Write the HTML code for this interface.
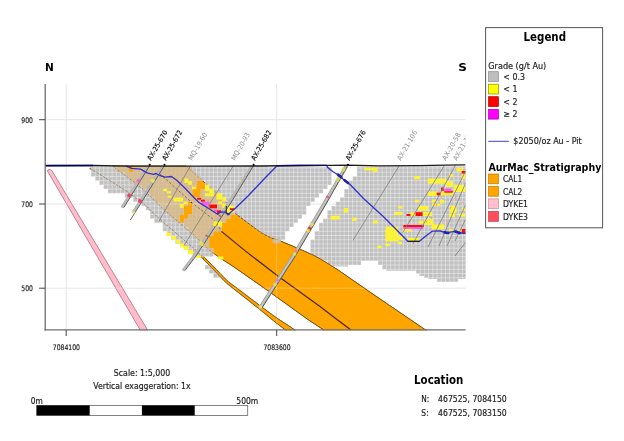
<!DOCTYPE html>
<html lang="en"><head><meta charset="utf-8"><title>AurMac cross-section</title>
<style>html,body{margin:0;padding:0;background:#fff;overflow:hidden}svg{display:block}</style></head>
<body>
<svg width="624" height="441" viewBox="0 0 624 441" font-family='"DejaVu Sans Condensed","Liberation Sans",sans-serif'>
<rect width="624" height="441" fill="#fff"/>
<g stroke="#e6e6e6" stroke-width="1" fill="none">
<line x1="45" y1="119.7" x2="465.6" y2="119.7"/>
<line x1="45" y1="204" x2="465.6" y2="204"/>
<line x1="45" y1="288.2" x2="465.6" y2="288.2"/>
<line x1="66.2" y1="84" x2="66.2" y2="330"/>
<line x1="276.7" y1="84" x2="276.7" y2="330"/>
</g>
<defs><clipPath id="plot"><rect x="45" y="84" width="420.6" height="246.3"/></clipPath></defs>
<g clip-path="url(#plot)">
<polygon points="47.3,170.8 48.0,169.8 50.6,169.4 51.6,170.2 147.9,330.5 140.5,330.5" fill="#ffbccb" stroke="#a8707e" stroke-width="0.8" stroke-linejoin="round"/>
<polygon points="186.0,166.0 200.0,178.5 212.0,189.0 224.0,199.5 234.6,212.9 244.0,220.2 250.0,224.6 262.8,233.9 271.2,238.0 280.8,241.2 290.0,245.1 302.3,250.3 315.0,256.0 325.0,261.8 338.0,270.0 375.6,296.0 425.6,330.0 430.0,333.0 320.0,333.0 324.0,330.0 308.7,320.0 267.0,290.0 235.0,267.6 218.3,256.7 210.6,251.3 197.8,238.5 185.0,227.6 165.0,210.5 156.8,202.5 148.3,194.5 143.5,189.7 132.9,181.1 114.6,167.6 112.5,166.0" fill="#ffa500" stroke="#7a4e12" stroke-width="0.9"/>
<polygon points="89.8,168.7 127.0,192.0 145.0,205.4 156.5,217.0 194.5,249.9 203.0,258.9 211.6,267.5 219.3,275.7 227.0,283.5 239.2,293.1 259.3,309.0 273.8,320.9 287.9,331.8 292.3,335.3 295.7,330.7 291.1,327.4 276.2,317.7 261.1,306.6 240.8,291.1 228.4,281.9 220.7,274.3 213.0,266.1 204.4,257.5 195.5,248.9 157.1,216.2 145.6,204.6 127.6,191.2 90.4,167.9" fill="#ffa500" stroke="#7a4e12" stroke-width="0.8"/>
<polyline points="160.0,174.0 166.4,179.7 192.0,202.8 215.1,220.7 221.5,231.4 244.6,250.4 277.5,275.7 320.0,306.6 335.0,318.0 351.0,330.0" fill="none" stroke="#4a2606" stroke-width="1.2"/>
<defs><clipPath id="gc"><polygon points="186.0,166.0 200.0,178.5 212.0,189.0 224.0,199.5 234.6,212.9 244.0,220.2 250.0,224.6 262.8,233.9 271.2,238.0 280.8,241.2 290.0,245.1 302.3,250.3 315.0,256.0 325.0,261.8 338.0,270.0 375.6,296.0 425.6,330.0 430.0,333.0 320.0,333.0 324.0,330.0 308.7,320.0 267.0,290.0 235.0,267.6 218.3,256.7 210.6,251.3 197.8,238.5 185.0,227.6 165.0,210.5 156.8,202.5 148.3,194.5 143.5,189.7 132.9,181.1 114.6,167.6 112.5,166.0"/><polygon points="89.8,168.7 127.0,192.0 145.0,205.4 156.5,217.0 194.5,249.9 203.0,258.9 211.6,267.5 219.3,275.7 227.0,283.5 239.2,293.1 259.3,309.0 273.8,320.9 287.9,331.8 292.3,335.3 295.7,330.7 291.1,327.4 276.2,317.7 261.1,306.6 240.8,291.1 228.4,281.9 220.7,274.3 213.0,266.1 204.4,257.5 195.5,248.9 157.1,216.2 145.6,204.6 127.6,191.2 90.4,167.9"/><polygon points="47.3,170.8 48.0,169.8 50.6,169.4 51.6,170.2 147.9,330.5 140.5,330.5"/></clipPath></defs>
<defs><clipPath id="bc"><path d="M91.02 168.00h37.98v4.22h-37.98zM133.22 168.00h198.34v4.22h-198.34zM356.88 168.00h109.72v4.22h-109.72zM91.02 172.22h240.54v4.22h-240.54zM356.88 172.22h109.72v4.22h-109.72zM95.24 176.44h236.32v4.22h-236.32zM352.66 176.44h113.94v4.22h-113.94zM99.46 180.66h97.06v4.22h-97.06zM204.96 180.66h126.60v4.22h-126.60zM348.44 180.66h118.16v4.22h-118.16zM103.68 184.88h92.84v4.22h-92.84zM204.96 184.88h122.38v4.22h-122.38zM348.44 184.88h118.16v4.22h-118.16zM107.90 189.10h84.40v4.22h-84.40zM200.74 189.10h122.38v4.22h-122.38zM344.22 189.10h122.38v4.22h-122.38zM124.78 193.32h67.52v4.22h-67.52zM200.74 193.32h118.16v4.22h-118.16zM344.22 193.32h122.38v4.22h-122.38zM133.22 197.54h181.46v4.22h-181.46zM340.00 197.54h126.60v4.22h-126.60zM141.66 201.76h46.42v4.22h-46.42zM192.30 201.76h118.16v4.22h-118.16zM335.78 201.76h130.82v4.22h-130.82zM145.88 205.98h37.98v4.22h-37.98zM192.30 205.98h113.94v4.22h-113.94zM331.56 205.98h135.04v4.22h-135.04zM150.10 210.20h33.76v4.22h-33.76zM192.30 210.20h113.94v4.22h-113.94zM327.34 210.20h139.26v4.22h-139.26zM150.10 214.42h29.54v4.22h-29.54zM188.08 214.42h42.20v4.22h-42.20zM238.72 214.42h63.30v4.22h-63.30zM327.34 214.42h139.26v4.22h-139.26zM154.32 218.64h25.32v4.22h-25.32zM183.86 218.64h42.20v4.22h-42.20zM242.94 218.64h54.86v4.22h-54.86zM323.12 218.64h143.48v4.22h-143.48zM162.76 222.86h59.08v4.22h-59.08zM247.16 222.86h46.42v4.22h-46.42zM318.90 222.86h147.70v4.22h-147.70zM162.76 227.08h59.08v4.22h-59.08zM255.60 227.08h33.76v4.22h-33.76zM318.90 227.08h147.70v4.22h-147.70zM166.98 231.30h46.42v4.22h-46.42zM259.82 231.30h25.32v4.22h-25.32zM314.68 231.30h151.92v4.22h-151.92zM171.20 235.52h37.98v4.22h-37.98zM268.26 235.52h16.88v4.22h-16.88zM314.68 235.52h151.92v4.22h-151.92zM175.42 239.74h33.76v4.22h-33.76zM310.46 239.74h156.14v4.22h-156.14zM183.86 243.96h25.32v4.22h-25.32zM310.46 243.96h156.14v4.22h-156.14zM188.08 248.18h25.32v4.22h-25.32zM310.46 248.18h156.14v4.22h-156.14zM192.30 252.40h21.10v4.22h-21.10zM310.46 252.40h156.14v4.22h-156.14zM318.90 256.62h147.70v4.22h-147.70zM327.34 260.84h33.76v4.22h-33.76zM377.98 260.84h88.62v4.22h-88.62zM204.96 265.06h8.44v4.22h-8.44zM382.20 265.06h84.40v4.22h-84.40zM209.18 269.28h8.44v4.22h-8.44zM415.96 269.28h50.64v4.22h-50.64zM213.40 273.50h8.44v4.22h-8.44zM428.62 273.50h37.98v4.22h-37.98zM437.06 277.72h21.10v4.22h-21.10zM91.02 166.4H129.00V168.0H91.02zM133.22 166.4H268.00V168.0H133.22zM268.00 167.3H331.56V168.0H268.00zM356.88 166.5H466.60V168.0H356.88zM386 269.28H415.5V270.8H386zM419.4 273.5H424V275.9H419.4zM424 273.5H428.3V277.7H424zM428.3 277.7H437V279.1H428.3zM457 277.7H465.6V279.1H457zM331.4 265.06H348V266.4H331.4z"/></clipPath></defs>
<path d="M91.02 168.00h37.98v4.22h-37.98zM133.22 168.00h198.34v4.22h-198.34zM356.88 168.00h109.72v4.22h-109.72zM91.02 172.22h240.54v4.22h-240.54zM356.88 172.22h109.72v4.22h-109.72zM95.24 176.44h236.32v4.22h-236.32zM352.66 176.44h113.94v4.22h-113.94zM99.46 180.66h97.06v4.22h-97.06zM204.96 180.66h126.60v4.22h-126.60zM348.44 180.66h118.16v4.22h-118.16zM103.68 184.88h92.84v4.22h-92.84zM204.96 184.88h122.38v4.22h-122.38zM348.44 184.88h118.16v4.22h-118.16zM107.90 189.10h84.40v4.22h-84.40zM200.74 189.10h122.38v4.22h-122.38zM344.22 189.10h122.38v4.22h-122.38zM124.78 193.32h67.52v4.22h-67.52zM200.74 193.32h118.16v4.22h-118.16zM344.22 193.32h122.38v4.22h-122.38zM133.22 197.54h181.46v4.22h-181.46zM340.00 197.54h126.60v4.22h-126.60zM141.66 201.76h46.42v4.22h-46.42zM192.30 201.76h118.16v4.22h-118.16zM335.78 201.76h130.82v4.22h-130.82zM145.88 205.98h37.98v4.22h-37.98zM192.30 205.98h113.94v4.22h-113.94zM331.56 205.98h135.04v4.22h-135.04zM150.10 210.20h33.76v4.22h-33.76zM192.30 210.20h113.94v4.22h-113.94zM327.34 210.20h139.26v4.22h-139.26zM150.10 214.42h29.54v4.22h-29.54zM188.08 214.42h42.20v4.22h-42.20zM238.72 214.42h63.30v4.22h-63.30zM327.34 214.42h139.26v4.22h-139.26zM154.32 218.64h25.32v4.22h-25.32zM183.86 218.64h42.20v4.22h-42.20zM242.94 218.64h54.86v4.22h-54.86zM323.12 218.64h143.48v4.22h-143.48zM162.76 222.86h59.08v4.22h-59.08zM247.16 222.86h46.42v4.22h-46.42zM318.90 222.86h147.70v4.22h-147.70zM162.76 227.08h59.08v4.22h-59.08zM255.60 227.08h33.76v4.22h-33.76zM318.90 227.08h147.70v4.22h-147.70zM166.98 231.30h46.42v4.22h-46.42zM259.82 231.30h25.32v4.22h-25.32zM314.68 231.30h151.92v4.22h-151.92zM171.20 235.52h37.98v4.22h-37.98zM268.26 235.52h16.88v4.22h-16.88zM314.68 235.52h151.92v4.22h-151.92zM175.42 239.74h33.76v4.22h-33.76zM310.46 239.74h156.14v4.22h-156.14zM183.86 243.96h25.32v4.22h-25.32zM310.46 243.96h156.14v4.22h-156.14zM188.08 248.18h25.32v4.22h-25.32zM310.46 248.18h156.14v4.22h-156.14zM192.30 252.40h21.10v4.22h-21.10zM310.46 252.40h156.14v4.22h-156.14zM318.90 256.62h147.70v4.22h-147.70zM327.34 260.84h33.76v4.22h-33.76zM377.98 260.84h88.62v4.22h-88.62zM204.96 265.06h8.44v4.22h-8.44zM382.20 265.06h84.40v4.22h-84.40zM209.18 269.28h8.44v4.22h-8.44zM415.96 269.28h50.64v4.22h-50.64zM213.40 273.50h8.44v4.22h-8.44zM428.62 273.50h37.98v4.22h-37.98zM437.06 277.72h21.10v4.22h-21.10zM91.02 166.4H129.00V168.0H91.02zM133.22 166.4H268.00V168.0H133.22zM268.00 167.3H331.56V168.0H268.00zM356.88 166.5H466.60V168.0H356.88zM386 269.28H415.5V270.8H386zM419.4 273.5H424V275.9H419.4zM424 273.5H428.3V277.7H424zM428.3 277.7H437V279.1H428.3zM457 277.7H465.6V279.1H457zM331.4 265.06H348V266.4H331.4z" fill="#c0c0c0"/>
<path d="M45 168.00H466M45 172.22H466M45 176.44H466M45 180.66H466M45 184.88H466M45 189.10H466M45 193.32H466M45 197.54H466M45 201.76H466M45 205.98H466M45 210.20H466M45 214.42H466M45 218.64H466M45 222.86H466M45 227.08H466M45 231.30H466M45 235.52H466M45 239.74H466M45 243.96H466M45 248.18H466M45 252.40H466M45 256.62H466M45 260.84H466M45 265.06H466M45 269.28H466M45 273.50H466M45 277.72H466M45 281.94H466M91.02 166V290M95.24 166V290M99.46 166V290M103.68 166V290M107.90 166V290M112.12 166V290M116.34 166V290M120.56 166V290M124.78 166V290M129.00 166V290M133.22 166V290M137.44 166V290M141.66 166V290M145.88 166V290M150.10 166V290M154.32 166V290M158.54 166V290M162.76 166V290M166.98 166V290M171.20 166V290M175.42 166V290M179.64 166V290M183.86 166V290M188.08 166V290M192.30 166V290M196.52 166V290M200.74 166V290M204.96 166V290M209.18 166V290M213.40 166V290M217.62 166V290M221.84 166V290M226.06 166V290M230.28 166V290M234.50 166V290M238.72 166V290M242.94 166V290M247.16 166V290M251.38 166V290M255.60 166V290M259.82 166V290M264.04 166V290M268.26 166V290M272.48 166V290M276.70 166V290M280.92 166V290M285.14 166V290M289.36 166V290M293.58 166V290M297.80 166V290M302.02 166V290M306.24 166V290M310.46 166V290M314.68 166V290M318.90 166V290M323.12 166V290M327.34 166V290M331.56 166V290M335.78 166V290M340.00 166V290M344.22 166V290M348.44 166V290M352.66 166V290M356.88 166V290M361.10 166V290M365.32 166V290M369.54 166V290M373.76 166V290M377.98 166V290M382.20 166V290M386.42 166V290M390.64 166V290M394.86 166V290M399.08 166V290M403.30 166V290M407.52 166V290M411.74 166V290M415.96 166V290M420.18 166V290M424.40 166V290M428.62 166V290M432.84 166V290M437.06 166V290M441.28 166V290M445.50 166V290M449.72 166V290M453.94 166V290M458.16 166V290M462.38 166V290M466.60 166V290" stroke="#fff" stroke-opacity="0.5" stroke-width="0.8" fill="none" clip-path="url(#bc)"/>
<path d="M116.34 166.40h12.66v5.82h-12.66zM133.22 166.40h59.08v5.82h-59.08zM124.78 172.22h71.74v4.22h-71.74zM129.00 176.44h71.74v4.22h-71.74zM133.22 180.66h63.30v4.22h-63.30zM141.66 184.88h54.86v4.22h-54.86zM204.96 184.88h4.22v4.22h-4.22zM145.88 189.10h46.42v4.22h-46.42zM200.74 189.10h12.66v4.22h-12.66zM150.10 193.32h42.20v4.22h-42.20zM200.74 193.32h16.88v4.22h-16.88zM154.32 197.54h71.74v4.22h-71.74zM158.54 201.76h29.54v4.22h-29.54zM192.30 201.76h33.76v4.22h-33.76zM162.76 205.98h21.10v4.22h-21.10zM192.30 205.98h37.98v4.22h-37.98zM166.98 210.20h16.88v4.22h-16.88zM192.30 210.20h42.20v4.22h-42.20zM171.20 214.42h8.44v4.22h-8.44zM188.08 214.42h42.20v4.22h-42.20zM175.42 218.64h4.22v4.22h-4.22zM183.86 218.64h42.20v4.22h-42.20zM183.86 222.86h37.98v4.22h-37.98zM247.16 222.86h4.22v4.22h-4.22zM188.08 227.08h33.76v4.22h-33.76zM192.30 231.30h21.10v4.22h-21.10zM259.82 231.30h4.22v4.22h-4.22zM196.52 235.52h12.66v4.22h-12.66zM268.26 235.52h4.22v4.22h-4.22zM200.74 239.74h8.44v4.22h-8.44zM204.96 243.96h4.22v4.22h-4.22zM209.18 248.18h4.22v4.22h-4.22z" fill="#d9b988" fill-opacity="0.82"/>
<g clip-path="url(#bc)"><polygon points="186.0,166.0 200.0,178.5 212.0,189.0 224.0,199.5 234.6,212.9 244.0,220.2 250.0,224.6 262.8,233.9 271.2,238.0 280.8,241.2 290.0,245.1 302.3,250.3 315.0,256.0 325.0,261.8 338.0,270.0 375.6,296.0 425.6,330.0 430.0,333.0 320.0,333.0 324.0,330.0 308.7,320.0 267.0,290.0 235.0,267.6 218.3,256.7 210.6,251.3 197.8,238.5 185.0,227.6 165.0,210.5 156.8,202.5 148.3,194.5 143.5,189.7 132.9,181.1 114.6,167.6 112.5,166.0" fill="none" stroke="#7a4e12" stroke-opacity="0.5" stroke-width="0.9" stroke-dasharray="2.2 1.6"/>
<polyline points="90.1,168.3 127.3,191.6 145.3,205.0 156.8,216.6 195.0,249.4 203.7,258.2 212.3,266.8 220.0,275.0 227.7,282.7 240.0,292.1 260.2,307.8 275.0,319.3 289.5,329.6 294.0,333.0" fill="none" stroke="#8a6a3a" stroke-opacity="0.75" stroke-width="0.9" stroke-dasharray="2.4 1.4"/>
<polyline points="160.0,174.0 166.4,179.7 192.0,202.8 215.1,220.7 221.5,231.4 244.6,250.4 277.5,275.7 320.0,306.6 335.0,318.0 351.0,330.0" fill="none" stroke="#4a2606" stroke-opacity="0.5" stroke-width="1" stroke-dasharray="2.4 1.8"/></g>
<defs><clipPath id="zc"><polygon points="237.2,210.5 232.5,220.0 227.6,228.0 226.0,233.4 218.6,237.0 215.0,242.0 215.0,250.5 220.5,257.0 224.0,262.0 224.0,335.0 470.0,335.0 470.0,210.5"/></clipPath></defs>
<g clip-path="url(#zc)"><polygon points="186.0,166.0 200.0,178.5 212.0,189.0 224.0,199.5 234.6,212.9 244.0,220.2 250.0,224.6 262.8,233.9 271.2,238.0 280.8,241.2 290.0,245.1 302.3,250.3 315.0,256.0 325.0,261.8 338.0,270.0 375.6,296.0 425.6,330.0 430.0,333.0 320.0,333.0 324.0,330.0 308.7,320.0 267.0,290.0 235.0,267.6 218.3,256.7 210.6,251.3 197.8,238.5 185.0,227.6 165.0,210.5 156.8,202.5 148.3,194.5 143.5,189.7 132.9,181.1 114.6,167.6 112.5,166.0" fill="#ffa500" stroke="#7a4e12" stroke-width="0.9"/>
<polyline points="160.0,174.0 166.4,179.7 192.0,202.8 215.1,220.7 221.5,231.4 244.6,250.4 277.5,275.7 320.0,306.6 335.0,318.0 351.0,330.0" fill="none" stroke="#4a2606" stroke-width="1.2"/></g>
<polyline points="236.5,214.6 244,220.2 250,224.6 262.8,233.9 271.2,238 280.8,241.2" fill="none" stroke="#c4c0b8" stroke-width="1.1" stroke-dasharray="1.5 2.6" stroke-opacity="0.85"/>
<rect x="272.6" y="239.2" width="8.2" height="4.0" fill="#cdbb9c"/>
<polygon points="203.0,258.9 211.6,267.5 219.3,275.7 227.0,283.5 239.2,293.1 259.3,309.0 273.8,320.9 287.9,331.8 292.3,335.3 295.7,330.7 291.1,327.4 276.2,317.7 261.1,306.6 240.8,291.1 228.4,281.9 220.7,274.3 213.0,266.1 204.4,257.5" fill="#ffa500" stroke="#7a4e12" stroke-width="0.8"/>
<path d="M45 204H466M45 288.2H466M66.2 84V330M276.7 84V330" stroke="#fff" stroke-opacity="0.3" stroke-width="1" fill="none" clip-path="url(#gc)"/>
<g fill="#fff632" fill-opacity="0.95">
<rect x="184.4" y="178.4" width="3.8" height="4.5"/>
<rect x="188.2" y="181.0" width="3.8" height="3.8"/>
<rect x="192.0" y="186.7" width="3.9" height="2.6"/>
<rect x="163.2" y="188.7" width="3.8" height="2.5"/>
<rect x="167.0" y="191.2" width="3.9" height="2.0"/>
<rect x="167.7" y="195.7" width="3.8" height="1.9"/>
<rect x="173.5" y="197.6" width="9.5" height="3.9"/>
<rect x="183.7" y="201.5" width="3.9" height="2.5"/>
<rect x="179.9" y="204.0" width="3.8" height="3.9"/>
<rect x="204.9" y="184.8" width="4.5" height="6.4"/>
<rect x="209.4" y="188.7" width="4.4" height="4.5"/>
<rect x="204.9" y="193.2" width="8.9" height="3.2"/>
<rect x="216.4" y="193.2" width="5.8" height="6.4"/>
<rect x="222.2" y="197.0" width="3.8" height="4.5"/>
<rect x="218.3" y="201.5" width="3.9" height="2.5"/>
<rect x="222.2" y="204.0" width="3.2" height="3.9"/>
<rect x="226.0" y="205.8" width="8.4" height="6.8"/>
<rect x="217.7" y="221.4" width="4.5" height="5.1"/>
<rect x="240.2" y="180.5" width="3.2" height="2.5"/>
<rect x="151.0" y="179.6" width="2.2" height="2.6"/>
<rect x="166.0" y="232.7" width="5.0" height="3.3"/>
<rect x="171.4" y="236.0" width="4.6" height="3.7"/>
<rect x="176.0" y="239.7" width="4.4" height="3.9"/>
<rect x="180.0" y="243.6" width="4.0" height="3.8"/>
<rect x="183.6" y="246.0" width="5.1" height="4.0"/>
<rect x="188.0" y="250.0" width="5.0" height="4.5"/>
<rect x="196.0" y="255.4" width="5.0" height="2.6"/>
<rect x="199.7" y="241.3" width="4.5" height="4.5"/>
<rect x="218.0" y="256.4" width="5.4" height="3.2"/>
<rect x="364.0" y="167.7" width="13.5" height="2.6"/>
<rect x="372.4" y="170.3" width="5.1" height="1.9"/>
<rect x="344.0" y="208.0" width="4.0" height="4.0"/>
<rect x="398.0" y="206.2" width="4.5" height="2.3"/>
<rect x="394.0" y="212.0" width="8.5" height="3.0"/>
<rect x="343.6" y="210.0" width="4.4" height="2.5"/>
<rect x="330.8" y="215.8" width="8.9" height="3.8"/>
<rect x="352.0" y="217.7" width="4.4" height="3.3"/>
<rect x="373.0" y="220.3" width="4.6" height="3.2"/>
<rect x="330.6" y="216.0" width="4.4" height="3.2"/>
<rect x="385.3" y="226.7" width="12.7" height="14.7"/>
<rect x="398.0" y="236.0" width="5.0" height="4.0"/>
<rect x="377.0" y="245.6" width="4.4" height="2.6"/>
<rect x="385.3" y="243.6" width="4.4" height="2.6"/>
<rect x="397.6" y="241.7" width="4.4" height="2.5"/>
<rect x="414.2" y="176.0" width="5.8" height="3.2"/>
<rect x="427.7" y="178.6" width="18.6" height="5.1"/>
<rect x="446.0" y="181.0" width="7.0" height="6.0"/>
<rect x="454.0" y="185.0" width="11.6" height="7.0"/>
<rect x="449.0" y="174.0" width="4.0" height="3.0"/>
<rect x="456.5" y="167.7" width="6.5" height="3.8"/>
<rect x="461.7" y="174.0" width="3.9" height="5.0"/>
<rect x="427.7" y="191.4" width="9.6" height="4.6"/>
<rect x="440.5" y="191.4" width="12.8" height="3.9"/>
<rect x="415.0" y="199.7" width="4.4" height="2.6"/>
<rect x="432.0" y="199.7" width="4.0" height="2.6"/>
<rect x="432.0" y="203.6" width="8.0" height="2.4"/>
<rect x="440.0" y="199.7" width="3.7" height="3.9"/>
<rect x="418.0" y="206.0" width="10.3" height="4.6"/>
<rect x="410.4" y="212.2" width="5.1" height="3.8"/>
<rect x="423.0" y="212.0" width="9.0" height="4.0"/>
<rect x="450.0" y="205.8" width="6.5" height="7.0"/>
<rect x="461.7" y="207.7" width="3.9" height="2.6"/>
<rect x="449.0" y="213.5" width="6.0" height="3.8"/>
<rect x="459.0" y="213.5" width="6.6" height="3.2"/>
<rect x="418.7" y="220.5" width="4.5" height="3.2"/>
<rect x="424.5" y="219.2" width="9.0" height="5.8"/>
<rect x="431.5" y="224.4" width="12.9" height="5.1"/>
<rect x="449.0" y="228.8" width="3.7" height="2.6"/>
<rect x="458.5" y="228.8" width="3.5" height="2.0"/>
<rect x="402.7" y="228.8" width="9.0" height="2.6"/>
<rect x="407.8" y="237.8" width="11.6" height="3.2"/>
</g>
<g fill="#ff0000" fill-opacity="0.95">
<rect x="197.2" y="197.8" width="3.8" height="1.9"/>
<rect x="201.0" y="199.7" width="3.9" height="2.0"/>
<rect x="209.4" y="204.5" width="7.6" height="3.8"/>
<rect x="217.0" y="210.3" width="4.0" height="3.2"/>
<rect x="229.9" y="208.2" width="4.5" height="1.8"/>
<rect x="461.7" y="171.0" width="3.9" height="2.5"/>
<rect x="441.0" y="187.6" width="2.7" height="3.2"/>
<rect x="444.4" y="190.8" width="8.3" height="1.9"/>
<rect x="436.7" y="192.7" width="3.8" height="2.6"/>
<rect x="415.5" y="212.2" width="7.0" height="3.8"/>
<rect x="406.5" y="214.0" width="3.9" height="2.0"/>
<rect x="403.3" y="225.0" width="20.5" height="2.0"/>
<rect x="461.7" y="229.0" width="3.9" height="5.0"/>
</g>
<g fill="#f45cf0" fill-opacity="0.95">
<rect x="201.7" y="201.7" width="7.7" height="3.8"/>
<rect x="213.8" y="209.4" width="3.2" height="2.8"/>
<rect x="444.4" y="188.5" width="7.0" height="2.9"/>
<rect x="403.3" y="227.0" width="19.9" height="2.0"/>
</g>
<g stroke="#7d7d7d" stroke-width="0.8" fill="none">
<polyline points="190.7,165.5 158.8,221.5"/>
<polyline points="233.5,165.5 184.0,245.5"/>
<polyline points="399.4,165.5 353.0,240.3"/>
<polyline points="444.4,165.5 402.7,232.5"/>
<polyline points="455.3,165.5 413.0,243.6"/>
<line x1="465.6" y1="171" x2="428" y2="247"/>
<line x1="465.6" y1="183" x2="439" y2="246"/>
<line x1="465.6" y1="204.6" x2="447" y2="246"/>
<line x1="465.6" y1="219.2" x2="455" y2="241"/>
<line x1="465.6" y1="242.3" x2="455" y2="256"/>
</g>
<polyline points="148.1,166.6 121.9,207.6" fill="none" stroke="#b2b2b2" stroke-width="3.0"/>
<polyline points="148.1,166.6 121.9,207.6" fill="none" stroke="#bebdb6" stroke-width="1.2"/>
<polyline points="149.7,165.5 124.0,207.4" fill="none" stroke="#555" stroke-width="0.9"/>
<polyline points="162.9,166.6 132.7,213.0" fill="none" stroke="#b2b2b2" stroke-width="3.0"/>
<polyline points="162.9,166.6 132.7,213.0" fill="none" stroke="#bebdb6" stroke-width="1.2"/>
<polyline points="164.5,165.5 130.4,220.0" fill="none" stroke="#555" stroke-width="0.9"/>
<polyline points="252.0,166.6 230.5,200.2 193.9,256.2 182.9,270.7" fill="none" stroke="#b2b2b2" stroke-width="3.0"/>
<polyline points="252.0,166.6 230.5,200.2 193.9,256.2 182.9,270.7" fill="none" stroke="#bebdb6" stroke-width="1.2"/>
<polyline points="253.6,165.5 232.6,200.0 196.0,256.0 185.0,270.5" fill="none" stroke="#555" stroke-width="0.9"/>
<polyline points="346.4,166.1 325.1,202.2 293.3,256.2 259.5,308.7" fill="none" stroke="#a2a2a2" stroke-width="3.7"/>
<polyline points="346.4,166.1 325.1,202.2 293.3,256.2 259.5,308.7" fill="none" stroke="#c8c6b8" stroke-width="1.8"/>
<polyline points="348.0,165.0 327.2,202.0 295.4,256.0 261.6,308.5" fill="none" stroke="#555" stroke-width="0.9"/>
<line x1="139.1" y1="179.4" x2="137.5" y2="182.0" stroke="#f070c0" stroke-width="3.4"/>
<line x1="130.1" y1="194.0" x2="128.4" y2="196.8" stroke="#f04060" stroke-width="3.4"/>
<line x1="153.7" y1="179.4" x2="152.1" y2="182.0" stroke="#e8e860" stroke-width="3.4"/>
<line x1="141.0" y1="199.7" x2="139.1" y2="202.7" stroke="#f04070" stroke-width="3.4"/>
<line x1="133.8" y1="211.2" x2="132.8" y2="212.8" stroke="#e8e860" stroke-width="3.4"/>
<line x1="216.5" y1="221.4" x2="213.8" y2="225.6" stroke="#ffee20" stroke-width="3.4"/>
<line x1="220.4" y1="215.4" x2="219.7" y2="216.6" stroke="#e05040" stroke-width="3.4"/>
<line x1="207.4" y1="235.4" x2="206.6" y2="236.6" stroke="#e05040" stroke-width="3.4"/>
<line x1="202.6" y1="242.7" x2="200.9" y2="245.3" stroke="#e8e040" stroke-width="3.4"/>
<line x1="344.3" y1="167.9" x2="342.5" y2="171.1" stroke="#d8d860" stroke-width="3.4"/>
<line x1="339.3" y1="176.8" x2="336.8" y2="181.2" stroke="#d8d860" stroke-width="3.4"/>
<line x1="328.5" y1="196.0" x2="327.3" y2="198.0" stroke="#e060a0" stroke-width="3.4"/>
<line x1="312.5" y1="223.4" x2="311.3" y2="225.4" stroke="#e0e050" stroke-width="3.4"/>
<line x1="310.2" y1="227.3" x2="309.1" y2="229.1" stroke="#e03030" stroke-width="3.4"/>
<line x1="308.7" y1="229.8" x2="307.5" y2="231.8" stroke="#f0e020" stroke-width="3.4"/>
<line x1="296.9" y1="250.0" x2="295.6" y2="252.0" stroke="#f08080" stroke-width="3.4"/>
<line x1="295.1" y1="253.0" x2="293.9" y2="255.0" stroke="#e8e040" stroke-width="3.4"/>
<line x1="278.2" y1="279.4" x2="276.9" y2="281.4" stroke="#e080c0" stroke-width="3.4"/>
<line x1="275.6" y1="283.5" x2="274.3" y2="285.5" stroke="#e8e040" stroke-width="3.4"/>
<line x1="261.1" y1="306.0" x2="259.8" y2="308.0" stroke="#e0e060" stroke-width="3.4"/>
<polyline points="126.0,166.2 131.7,168.3 140.6,169.2 147.0,172.8 153.5,174.4 156.0,173.5 160.0,175.5 165.1,177.1 171.5,176.5 176.7,180.3 185.6,188.7 193.3,197.0 198.5,202.1 208.7,208.5 217.7,214.3 219.8,211.9 225.2,212.2 228.0,214.8 231.8,211.3 235.6,207.9 248.0,196.0 265.0,178.0 276.8,166.0" fill="none" stroke="#3434cc" stroke-width="1.35" stroke-linejoin="round"/>
<polyline points="326.8,166.0 327.6,167.4 332.7,171.5 337.8,174.7 344.2,179.9 350.6,185.0 363.5,198.5 382.7,216.0 395.0,228.2 407.8,241.3 419.4,241.3 425.8,236.0 432.2,231.2 440.0,231.0 446.3,232.7 455.3,231.4 459.0,233.0 465.6,233.0" fill="none" stroke="#3434cc" stroke-width="1.35" stroke-linejoin="round"/>
<path d="M444.6 232.4L448.4 233M455.4 231.6L459.6 233M338 174.6L341.4 177.2M344.6 180.2L348 183" fill="none" stroke="#2020b8" stroke-width="2.6" stroke-linecap="round"/>
<path d="M455 198.6l1.2 -2.2M461.6 203.6l1.2 -2.2M451 216.9l1.2 -2.2M450 209l1.2 -2.2M431 219l1.2 -2.2M426 222.6l1.2 -2.2M441 198l1.2 -2.2M436 206l1.2 -2.2M458 222l1.2 -2.2M446.6 224l1.2 -2.2" fill="none" stroke="#f09a50" stroke-width="0.9"/>
<polyline points="407.8,241.3 419.4,241.3" fill="none" stroke="#222" stroke-width="1.3"/>
<polyline points="226.3,206 226.3,212.6 229.5,214.6" fill="none" stroke="#222" stroke-width="1"/>
<polyline points="45.0,165.6 93.0,165.5 130.0,166.1 200.0,166.2 260.0,166.0 300.0,165.5 330.0,165.4 348.0,165.2 380.0,165.9 420.0,165.7 445.0,165.2 465.6,164.9" fill="none" stroke="#1c1c1c" stroke-width="1.3"/>
<polyline points="45.0,165.6 93.0,165.5" fill="none" stroke="#00005e" stroke-width="1.7"/>
<polyline points="276.8,165.8 300,165.5 326.8,165.4" fill="none" stroke="#0a0a5a" stroke-width="1.4"/>
<circle cx="149.7" cy="164.8" r="1.05" fill="#000"/>
<text transform="translate(151.1 161.0) rotate(-60)" font-size="6.9" fill="#000" stroke="#000" stroke-width="0.12" textLength="33.4" lengthAdjust="spacingAndGlyphs">AX-25-670</text>
<circle cx="164.5" cy="164.8" r="1.05" fill="#000"/>
<text transform="translate(165.9 161.0) rotate(-60)" font-size="6.9" fill="#000" stroke="#000" stroke-width="0.12" textLength="33.4" lengthAdjust="spacingAndGlyphs">AX-25-672</text>
<circle cx="253.6" cy="164.8" r="1.05" fill="#000"/>
<text transform="translate(255.0 161.0) rotate(-60)" font-size="6.9" fill="#000" stroke="#000" stroke-width="0.12" textLength="33.4" lengthAdjust="spacingAndGlyphs">AX-25-682</text>
<circle cx="348.0" cy="164.8" r="1.05" fill="#000"/>
<text transform="translate(349.4 161.0) rotate(-60)" font-size="6.9" fill="#000" stroke="#000" stroke-width="0.12" textLength="33.4" lengthAdjust="spacingAndGlyphs">AX-25-676</text>
<text transform="translate(192.1 161.0) rotate(-60)" font-size="6.9" fill="#8e8e8e" textLength="30.8" lengthAdjust="spacingAndGlyphs">MQ-19-60</text>
<text transform="translate(234.9 161.0) rotate(-60)" font-size="6.9" fill="#8e8e8e" textLength="30.8" lengthAdjust="spacingAndGlyphs">MQ-20-93</text>
<text transform="translate(400.8 161.0) rotate(-60)" font-size="6.9" fill="#8e8e8e" textLength="33.4" lengthAdjust="spacingAndGlyphs">AX-21-106</text>
<text transform="translate(445.8 161.0) rotate(-60)" font-size="6.9" fill="#8e8e8e" textLength="30.8" lengthAdjust="spacingAndGlyphs">AX-20-58</text>
<text transform="translate(456.7 161.0) rotate(-60)" font-size="6.9" fill="#8e8e8e" textLength="33.4" lengthAdjust="spacingAndGlyphs">AX-21-118</text>
</g>
<g stroke="#6e6e6e" stroke-width="1.3" fill="none">
<line x1="45.2" y1="84" x2="45.2" y2="330.6"/>
<line x1="44.5" y1="329.9" x2="465.6" y2="329.9" stroke-width="1.15"/>
</g>
<g stroke="#444" stroke-width="1" fill="none">
<line x1="39" y1="119.7" x2="45" y2="119.7"/>
<line x1="39" y1="204" x2="45" y2="204"/>
<line x1="39" y1="288.2" x2="45" y2="288.2"/>
<line x1="66.2" y1="330" x2="66.2" y2="336"/>
<line x1="276.7" y1="330" x2="276.7" y2="336"/>
</g>
<text x="21.3" y="122.60000000000001" font-size="7.6" font-weight="normal" fill="#1a1a1a" stroke="#1a1a1a" stroke-width="0.16" text-anchor="start" textLength="11.6" lengthAdjust="spacingAndGlyphs">900</text>
<text x="21.3" y="206.9" font-size="7.6" font-weight="normal" fill="#1a1a1a" stroke="#1a1a1a" stroke-width="0.16" text-anchor="start" textLength="11.6" lengthAdjust="spacingAndGlyphs">700</text>
<text x="21.3" y="291.09999999999997" font-size="7.6" font-weight="normal" fill="#1a1a1a" stroke="#1a1a1a" stroke-width="0.16" text-anchor="start" textLength="11.6" lengthAdjust="spacingAndGlyphs">500</text>
<text x="52.8" y="350.0" font-size="7.6" font-weight="normal" fill="#1a1a1a" stroke="#1a1a1a" stroke-width="0.16" text-anchor="start" textLength="27.2" lengthAdjust="spacingAndGlyphs">7084100</text>
<text x="263.4" y="350.0" font-size="7.6" font-weight="normal" fill="#1a1a1a" stroke="#1a1a1a" stroke-width="0.16" text-anchor="start" textLength="27.2" lengthAdjust="spacingAndGlyphs">7083600</text>
<text x="44.9" y="71.2" font-size="9.6" font-weight="bold" fill="#000" text-anchor="start" textLength="8.8" lengthAdjust="spacingAndGlyphs" font-family="DejaVu Sans,Liberation Sans,sans-serif">N</text>
<text x="458.2" y="71.3" font-size="9.6" font-weight="bold" fill="#000" text-anchor="start" textLength="8.7" lengthAdjust="spacingAndGlyphs" font-family="DejaVu Sans,Liberation Sans,sans-serif">S</text>
<rect x="485.6" y="27.6" width="117" height="200.2" fill="#fff" stroke="#555" stroke-width="1"/>
<text x="523.6" y="40.6" font-size="11.5" font-weight="bold" fill="#000" text-anchor="start" textLength="42.4" lengthAdjust="spacingAndGlyphs">Legend</text>
<text x="488.3" y="68.7" font-size="8.8" font-weight="normal" fill="#1a1a1a" stroke="#1a1a1a" stroke-width="0.16" text-anchor="start" textLength="58" lengthAdjust="spacingAndGlyphs">Grade (g/t Au)</text>
<rect x="488.6" y="71.7" width="9.8" height="9.8" fill="#bebebe" stroke="#8a8a8a" stroke-width="0.7"/>
<text x="503.3" y="79.60000000000001" font-size="8.8" font-weight="normal" fill="#1a1a1a" stroke="#1a1a1a" stroke-width="0.16" text-anchor="start" textLength="21.6" lengthAdjust="spacingAndGlyphs">&lt; 0.3</text>
<rect x="488.6" y="84.2" width="9.8" height="9.8" fill="#ffff00" stroke="#8a8a00" stroke-width="0.7"/>
<text x="503.3" y="92.10000000000001" font-size="8.8" font-weight="normal" fill="#1a1a1a" stroke="#1a1a1a" stroke-width="0.16" text-anchor="start" textLength="14.2" lengthAdjust="spacingAndGlyphs">&lt; 1</text>
<rect x="488.6" y="96.7" width="9.8" height="9.8" fill="#ff0000" stroke="#a00000" stroke-width="0.7"/>
<text x="503.3" y="104.60000000000001" font-size="8.8" font-weight="normal" fill="#1a1a1a" stroke="#1a1a1a" stroke-width="0.16" text-anchor="start" textLength="14.2" lengthAdjust="spacingAndGlyphs">&lt; 2</text>
<rect x="488.6" y="109.3" width="9.8" height="9.8" fill="#ff00ff" stroke="#a000a0" stroke-width="0.7"/>
<text x="503.3" y="117.2" font-size="8.8" font-weight="normal" fill="#1a1a1a" stroke="#1a1a1a" stroke-width="0.16" text-anchor="start" textLength="14.2" lengthAdjust="spacingAndGlyphs">≥ 2</text>
<line x1="488.3" y1="141.3" x2="508.8" y2="141.3" stroke="#4040c8" stroke-width="1"/>
<text x="513.3" y="144.3" font-size="8.6" font-weight="normal" fill="#1a1a1a" stroke="#1a1a1a" stroke-width="0.16" text-anchor="start" textLength="68.4" lengthAdjust="spacingAndGlyphs">$2050/oz Au - Pit</text>
<text x="488.4" y="170.9" font-size="11.3" font-weight="bold" fill="#000" text-anchor="start" textLength="113" lengthAdjust="spacingAndGlyphs">AurMac_Stratigraphy</text>
<rect x="488.6" y="174" width="9.8" height="9.8" fill="#ffa500" stroke="#c07800" stroke-width="0.7"/>
<text x="503" y="182.1" font-size="8.4" font-weight="normal" fill="#1a1a1a" stroke="#1a1a1a" stroke-width="0.16" text-anchor="start" textLength="19.1" lengthAdjust="spacingAndGlyphs">CAL1</text>
<rect x="488.6" y="186.4" width="9.8" height="9.8" fill="#ffa500" stroke="#c07800" stroke-width="0.7"/>
<text x="503" y="194.5" font-size="8.4" font-weight="normal" fill="#1a1a1a" stroke="#1a1a1a" stroke-width="0.16" text-anchor="start" textLength="19.1" lengthAdjust="spacingAndGlyphs">CAL2</text>
<rect x="488.6" y="198.9" width="9.8" height="9.8" fill="#ffc0cb" stroke="#c08a92" stroke-width="0.7"/>
<text x="503" y="207.0" font-size="8.4" font-weight="normal" fill="#1a1a1a" stroke="#1a1a1a" stroke-width="0.16" text-anchor="start" textLength="25.0" lengthAdjust="spacingAndGlyphs">DYKE1</text>
<rect x="488.6" y="211.5" width="9.8" height="9.8" fill="#ff4d5e" stroke="#c03a48" stroke-width="0.7"/>
<text x="503" y="219.6" font-size="8.4" font-weight="normal" fill="#1a1a1a" stroke="#1a1a1a" stroke-width="0.16" text-anchor="start" textLength="25.0" lengthAdjust="spacingAndGlyphs">DYKE3</text>
<text x="113.8" y="375.8" font-size="8.6" font-weight="normal" fill="#1a1a1a" stroke="#1a1a1a" stroke-width="0.16" text-anchor="start" textLength="56.4" lengthAdjust="spacingAndGlyphs">Scale: 1:5,000</text>
<text x="93.3" y="389.4" font-size="8.6" font-weight="normal" fill="#1a1a1a" stroke="#1a1a1a" stroke-width="0.16" text-anchor="start" textLength="97.3" lengthAdjust="spacingAndGlyphs">Vertical exaggeration: 1x</text>
<text x="30.8" y="403.8" font-size="8.6" font-weight="normal" fill="#1a1a1a" stroke="#1a1a1a" stroke-width="0.16" text-anchor="start" textLength="12.1" lengthAdjust="spacingAndGlyphs">0m</text>
<text x="236.3" y="403.8" font-size="8.6" font-weight="normal" fill="#1a1a1a" stroke="#1a1a1a" stroke-width="0.16" text-anchor="start" textLength="22" lengthAdjust="spacingAndGlyphs">500m</text>
<rect x="36.7" y="405.4" width="211" height="10" fill="#fff" stroke="#666" stroke-width="0.8"/>
<rect x="36.7" y="405.4" width="53" height="10" fill="#000"/>
<rect x="141.9" y="405.4" width="52.8" height="10" fill="#000"/>
<text x="414.1" y="384.3" font-size="11.4" font-weight="bold" fill="#000" text-anchor="start" textLength="49.2" lengthAdjust="spacingAndGlyphs">Location</text>
<text x="421.3" y="402.3" font-size="8.6" font-weight="normal" fill="#1a1a1a" stroke="#1a1a1a" stroke-width="0.16" text-anchor="start" textLength="8" lengthAdjust="spacingAndGlyphs">N:</text>
<text x="438.1" y="402.3" font-size="8.6" font-weight="normal" fill="#1a1a1a" stroke="#1a1a1a" stroke-width="0.16" text-anchor="start" textLength="68.6" lengthAdjust="spacingAndGlyphs">467525, 7084150</text>
<text x="421.3" y="415.7" font-size="8.6" font-weight="normal" fill="#1a1a1a" stroke="#1a1a1a" stroke-width="0.16" text-anchor="start" textLength="7.4" lengthAdjust="spacingAndGlyphs">S:</text>
<text x="438.1" y="415.7" font-size="8.6" font-weight="normal" fill="#1a1a1a" stroke="#1a1a1a" stroke-width="0.16" text-anchor="start" textLength="68.6" lengthAdjust="spacingAndGlyphs">467525, 7083150</text>
</svg>
</body></html>
